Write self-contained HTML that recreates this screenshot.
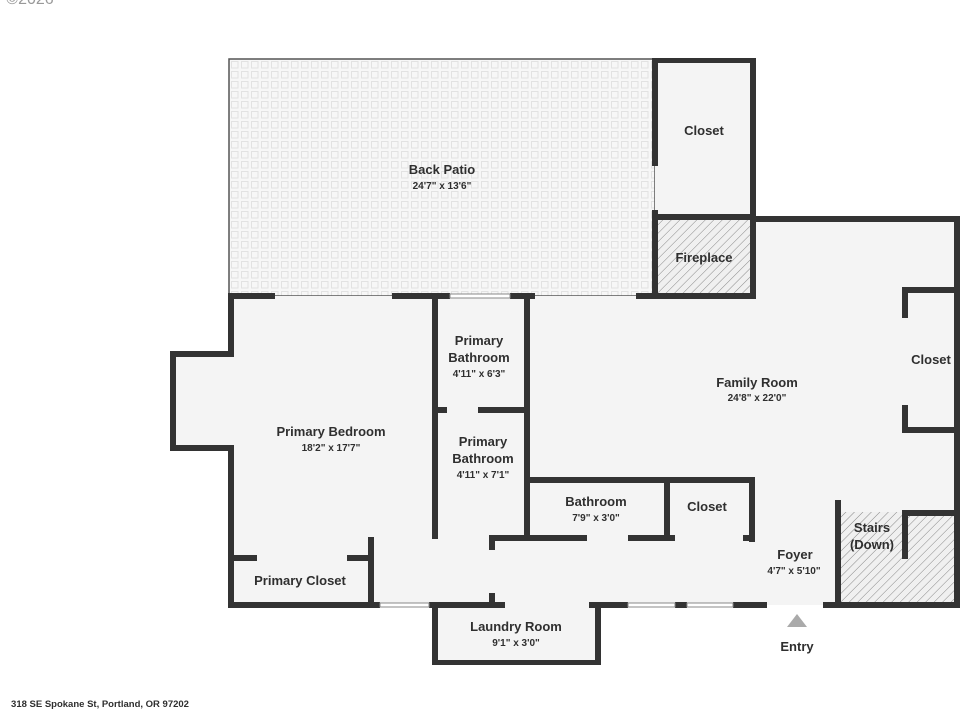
<!DOCTYPE html>
<html><head><meta charset="utf-8"><style>
html,body{margin:0;padding:0;background:#fff;width:960px;height:720px;overflow:hidden}
svg{display:block}
text{font-family:"Liberation Sans","DejaVu Sans",sans-serif;fill:#2f2f2f;text-anchor:middle}
.t{font-size:13px;font-weight:bold}
.d{font-size:10px;font-weight:bold}
</style></head><body>
<svg width="960" height="720" viewBox="0 0 960 720" xmlns="http://www.w3.org/2000/svg">
<defs>
<pattern id="tile" width="10" height="10" patternUnits="userSpaceOnUse">
<rect width="10" height="10" fill="#f7f7f7"/>
<rect x="1.5" y="1.5" width="6.5" height="6.5" fill="none" stroke="#e2e2e2" stroke-width="1"/>
</pattern>
<pattern id="hatch" width="6" height="6" patternUnits="userSpaceOnUse" patternTransform="rotate(45)">
<rect width="6" height="6" fill="#f0f0f0"/>
<line x1="0" y1="0" x2="0" y2="6" stroke="#888" stroke-width="1"/>
</pattern>
</defs>
<text x="30" y="4" style="font-size:16px;fill:#999">©2026</text>
<rect x="229" y="59" width="426" height="237" fill="url(#tile)" stroke="#555" stroke-width="1.5"/>
<rect x="655" y="59" width="98" height="158" fill="#f4f4f4"/>
<rect x="655" y="217" width="98" height="79" fill="url(#hatch)"/>
<rect x="753" y="219" width="205" height="386" fill="#f4f4f4"/>
<rect x="527" y="296" width="230" height="309" fill="#f4f4f4"/>
<rect x="229" y="296" width="298" height="309" fill="#f4f4f4"/>
<rect x="172" y="353" width="60" height="96" fill="#f4f4f4"/>
<rect x="433" y="605" width="165" height="59" fill="#f4f4f4"/>
<rect x="838" y="512" width="119" height="93" fill="url(#hatch)"/>
<g fill="#333">
<rect x="652" y="58" width="104" height="5"/>
<rect x="750" y="58" width="6" height="240"/>
<rect x="652" y="58" width="6" height="108"/>
<rect x="652" y="210" width="6" height="88"/>
<rect x="652" y="214" width="104" height="6"/>
<rect x="750" y="216" width="210" height="6"/>
<rect x="954" y="216" width="6" height="392"/>
<rect x="902" y="287" width="56" height="6"/>
<rect x="902" y="287" width="6" height="31"/>
<rect x="902" y="405" width="6" height="27"/>
<rect x="902" y="427" width="56" height="6"/>
<rect x="228" y="293" width="47" height="6"/>
<rect x="392" y="293" width="58" height="6"/>
<rect x="510" y="293" width="25" height="6"/>
<rect x="636" y="293" width="120" height="6"/>
<rect x="228" y="293" width="6" height="62"/>
<rect x="170" y="351" width="64" height="6"/>
<rect x="170" y="351" width="6" height="100"/>
<rect x="170" y="445" width="64" height="6"/>
<rect x="228" y="445" width="6" height="163"/>
<rect x="228" y="555" width="29" height="6"/>
<rect x="347" y="555" width="26" height="6"/>
<rect x="368" y="537" width="6" height="71"/>
<rect x="432" y="296" width="6" height="243"/>
<rect x="524" y="296" width="6" height="245"/>
<rect x="432" y="407" width="15" height="6"/>
<rect x="478" y="407" width="50" height="6"/>
<rect x="524" y="477" width="231" height="6"/>
<rect x="664" y="477" width="6" height="64"/>
<rect x="749" y="477" width="6" height="65"/>
<rect x="489" y="535" width="98" height="6"/>
<rect x="628" y="535" width="47" height="6"/>
<rect x="743" y="535" width="12" height="6"/>
<rect x="489" y="535" width="6" height="15"/>
<rect x="489" y="593" width="6" height="15"/>
<rect x="228" y="602" width="152" height="6"/>
<rect x="429" y="602" width="76" height="6"/>
<rect x="589" y="602" width="39" height="6"/>
<rect x="675" y="602" width="12" height="6"/>
<rect x="733" y="602" width="34" height="6"/>
<rect x="823" y="602" width="137" height="6"/>
<rect x="432" y="602" width="6" height="63"/>
<rect x="595" y="602" width="6" height="63"/>
<rect x="432" y="660" width="169" height="5"/>
<rect x="835" y="500" width="6" height="108"/>
<rect x="902" y="510" width="58" height="6"/>
<rect x="902" y="510" width="6" height="49"/>
</g>
<g fill="#fff" stroke="#888" stroke-width="1">
<rect x="450" y="294" width="60" height="4"/>
<rect x="380" y="603" width="49" height="4"/>
<rect x="628" y="603" width="47" height="4"/>
<rect x="687" y="603" width="46" height="4"/>
</g>
<polygon points="797,614 807,627 787,627" fill="#aaa"/>
<text class="t" x="442" y="174">Back Patio</text><text class="d" x="442" y="189">24'7" x 13'6"</text>
<text class="t" x="704" y="135">Closet</text>
<text class="t" x="704" y="262">Fireplace</text>
<text class="t" x="931" y="364">Closet</text>
<text class="t" x="757" y="387">Family Room</text><text class="d" x="757" y="401">24'8" x 22'0"</text>
<text class="t" x="479" y="345">Primary</text><text class="t" x="479" y="362">Bathroom</text><text class="d" x="479" y="377">4'11" x 6'3"</text>
<text class="t" x="483" y="446">Primary</text><text class="t" x="483" y="463">Bathroom</text><text class="d" x="483" y="478">4'11" x 7'1"</text>
<text class="t" x="331" y="436">Primary Bedroom</text><text class="d" x="331" y="451">18'2" x 17'7"</text>
<text class="t" x="596" y="506">Bathroom</text><text class="d" x="596" y="521">7'9" x 3'0"</text>
<text class="t" x="707" y="511">Closet</text>
<text class="t" x="795" y="559">Foyer</text><text class="d" x="794" y="574">4'7" x 5'10"</text>
<text class="t" x="872" y="532">Stairs</text><text class="t" x="872" y="549">(Down)</text>
<text class="t" x="300" y="585">Primary Closet</text>
<text class="t" x="516" y="631">Laundry Room</text><text class="d" x="516" y="646">9'1" x 3'0"</text>
<text class="t" x="797" y="651">Entry</text>
<text x="100" y="707" style="font-size:9.5px;font-weight:bold">318 SE Spokane St, Portland, OR 97202</text>
</svg>
</body></html>
